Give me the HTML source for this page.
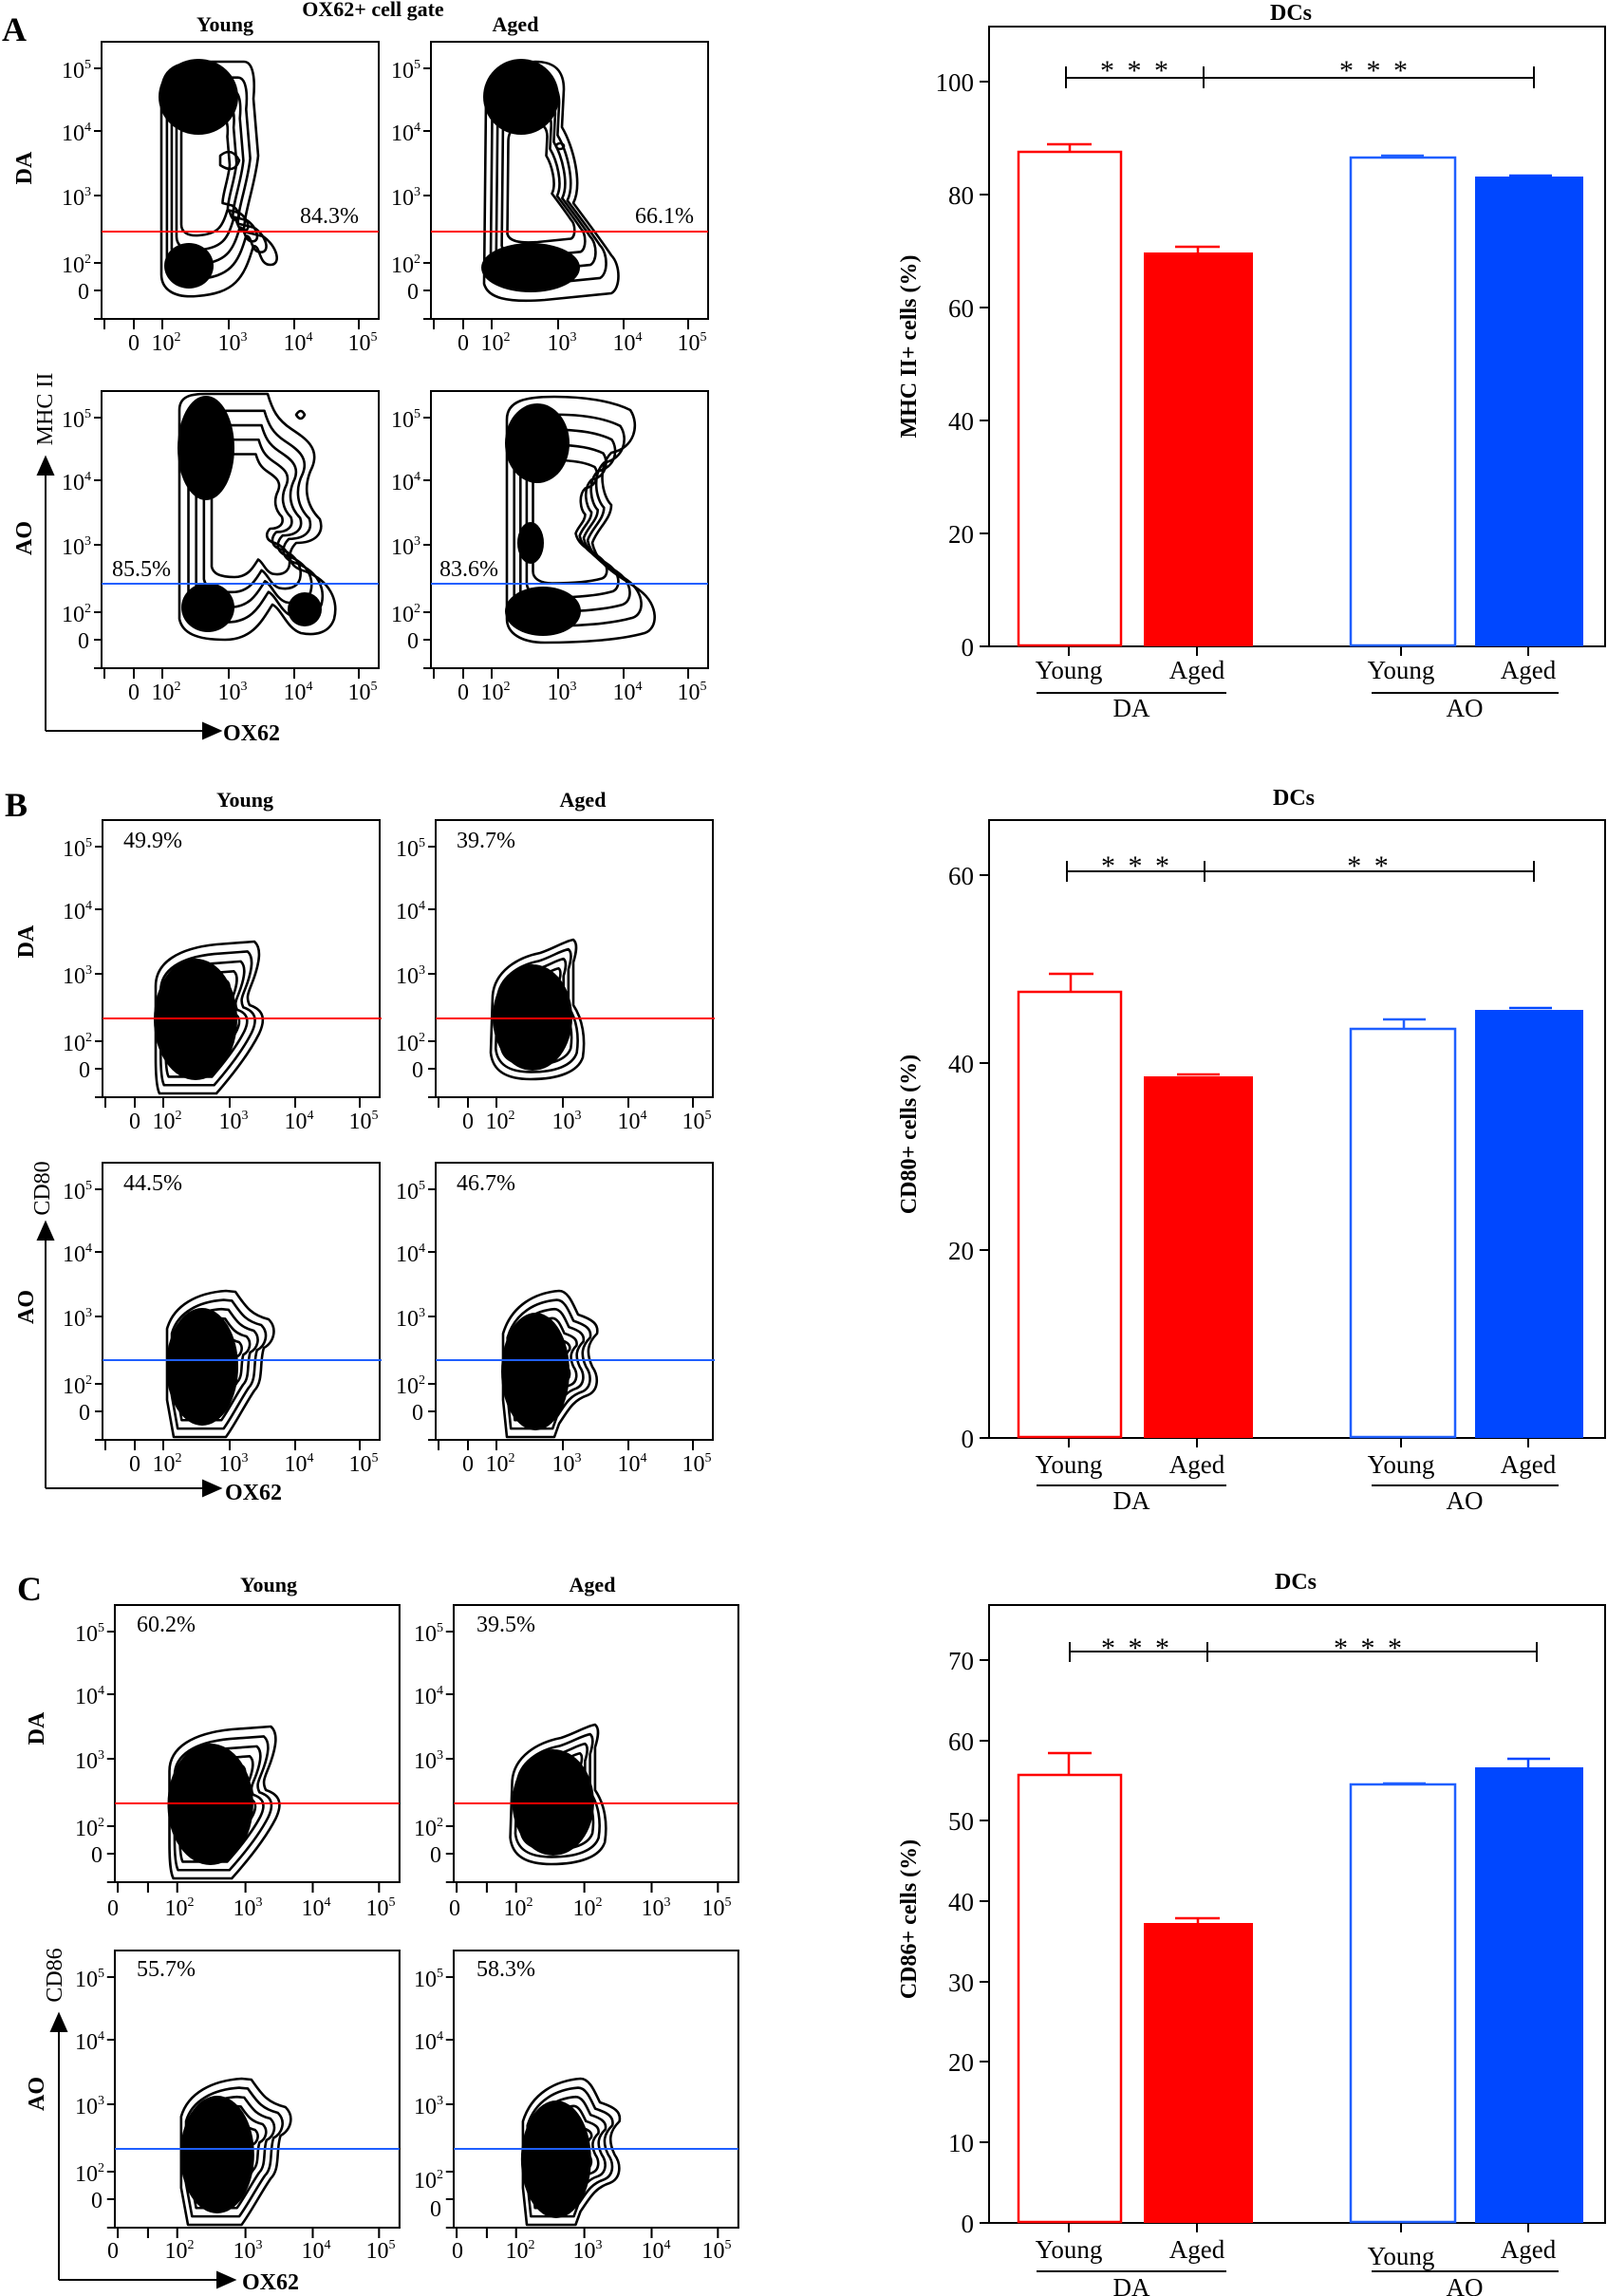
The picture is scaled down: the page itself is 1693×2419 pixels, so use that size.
<!DOCTYPE html>
<html><head><meta charset="utf-8"><style>
html,body{margin:0;padding:0;background:#fff}
svg{display:block}
.t{font-family:"Liberation Serif",serif;font-size:24px;fill:#000}
.b{font-family:"Liberation Serif",serif;font-weight:bold;fill:#000}
.c{fill:none;stroke:#000;stroke-width:2.6;vector-effect:non-scaling-stroke;stroke-linejoin:round}
.bt{font-family:"Liberation Serif",serif;font-size:27px;fill:#000}
</style></head><body>
<svg width="1693" height="2419" viewBox="0 0 1693 2419" xmlns="http://www.w3.org/2000/svg">
<defs>
<g id="ax" fill="none" stroke="#000" stroke-width="2">
<rect x="0" y="0" width="292" height="292"/>
<path d="M-8,28H0M-8,94H0M-8,162H0M-8,233H0M-8,262H0M-8,292H0M3,292V303M34,292V303M64,292V303M134,292V303M203,292V303M271,292V303"/>
</g>
<path id="aYDA" class="c" d="M63,55 C63,20 90,21 120,21 L150,21 C160,21 162,40 160,60 L165,120 C162,150 150,180 150,200 L170,205 C185,215 190,235 178,235 C165,235 168,215 160,215 C150,250 140,265 100,268 C75,270 63,260 63,245 Z"/>
<path id="aADA" class="c" d="M58,60 C58,30 80,22 110,21 C130,21 140,30 140,50 L138,90 C150,110 160,150 150,170 C165,190 180,210 190,225 C200,235 200,260 190,265 L120,272 C80,275 60,270 56,255 Z"/>
<path id="aYAO" class="c" d="M82,20 C82,5 95,3 110,3 L175,3 C180,20 185,30 200,40 C215,50 230,60 222,80 C212,100 215,120 230,135 C235,150 225,160 205,160 C195,170 195,185 215,190 C240,200 250,220 245,240 C240,255 225,258 210,255 C195,250 190,230 180,225 C170,240 160,262 130,262 C100,262 85,255 82,240 Z"/>
<path id="aAAO" class="c" d="M80,30 C80,10 100,6 130,6 C160,6 190,10 210,20 C220,35 215,60 190,65 C175,80 180,110 190,120 C190,135 175,145 170,160 C175,185 200,195 220,210 C240,225 240,250 225,255 C200,262 160,265 120,265 C95,265 80,255 80,240 Z"/>
<path id="bYDA" class="c" d="M56,175 C56,150 80,135 120,131 L160,128 C168,135 165,150 160,165 C155,180 150,185 155,195 C170,200 172,210 165,225 C155,245 140,265 120,288 L60,288 C56,280 56,260 56,250 Z"/>
<path id="bADA" class="c" d="M60,185 C62,160 85,145 110,140 C125,135 135,128 145,126 C150,130 148,140 145,150 L145,195 C155,210 158,230 155,250 C150,265 130,273 100,273 C75,273 60,265 58,245 Z"/>
<path id="bYAO" class="c" d="M68,175 C75,150 100,137 130,135 L140,136 C150,150 155,160 175,165 C185,175 180,190 170,195 C165,210 170,230 160,240 C150,255 140,275 130,289 L75,289 L68,250 Z"/>
<path id="bAAO" class="c" d="M71,180 C80,150 105,137 130,135 C140,135 145,150 150,160 C165,165 172,170 170,180 C160,190 158,200 165,215 C172,225 172,240 160,245 C145,250 140,260 130,275 L125,289 L75,289 L71,250 Z"/>
</defs>

<!-- ===== Panel A flow ===== -->
<text class="b" x="2" y="43" font-size="36">A</text>
<text class="b" x="393" y="17" font-size="22" text-anchor="middle">OX62+ cell gate</text>
<text class="b" x="237" y="33" font-size="22" text-anchor="middle">Young</text>
<text class="b" x="543" y="33" font-size="22" text-anchor="middle">Aged</text>
<text class="b" font-size="24" transform="translate(33,177) rotate(-90)" text-anchor="middle">DA</text>
<text class="b" font-size="24" transform="translate(33,567) rotate(-90)" text-anchor="middle">AO</text>
<text class="t" font-size="24" transform="translate(55,431) rotate(-90)" text-anchor="middle">MHC II</text>
<path d="M48,770V492M40,500L48,482L56,500Z M48,770H222M214,762L232,770L214,778Z" stroke="#000" stroke-width="2" fill="#000"/>
<text class="b" x="235" y="780" font-size="24">OX62</text>

<g transform="translate(107,44)">
<use href="#ax"/>
<ellipse cx="102" cy="58" rx="42" ry="40" fill="#000"/>
<ellipse cx="92" cy="236" rx="26" ry="24" fill="#000"/>
<use href="#aYDA"/><use href="#aYDA" transform="translate(105 140) scale(0.86) translate(-105 -140)"/><use href="#aYDA" transform="translate(105 140) scale(0.74) translate(-105 -140)"/><use href="#aYDA" transform="translate(105 140) scale(0.62) translate(-105 -140)"/><use href="#aYDA" transform="translate(105 140) scale(0.5) translate(-105 -140)"/>
<path d="M125,120 q12,-10 20,5 q-5,15 -20,5z" class="c"/>
<line x1="0" y1="200" x2="292" y2="200" stroke="#ff0000" stroke-width="2"/>
<text class="t" x="209" y="191">84.3%</text>
</g>
<g transform="translate(454,44)">
<use href="#ax"/>
<ellipse cx="95" cy="58" rx="40" ry="40" fill="#000"/>
<ellipse cx="105" cy="238" rx="52" ry="26" fill="#000"/>
<use href="#aADA"/><use href="#aADA" transform="translate(105 150) scale(0.86) translate(-105 -150)"/><use href="#aADA" transform="translate(105 150) scale(0.74) translate(-105 -150)"/><use href="#aADA" transform="translate(105 150) scale(0.62) translate(-105 -150)"/><use href="#aADA" transform="translate(105 150) scale(0.5) translate(-105 -150)"/>
<ellipse cx="136" cy="110" rx="4" ry="3" class="c"/>
<line x1="0" y1="200" x2="292" y2="200" stroke="#ff0000" stroke-width="2"/>
<text class="t" x="215" y="191">66.1%</text>
</g>
<g transform="translate(107,412)">
<use href="#ax"/>
<ellipse cx="110" cy="60" rx="30" ry="55" fill="#000"/>
<ellipse cx="112" cy="228" rx="28" ry="26" fill="#000"/>
<ellipse cx="214" cy="230" rx="18" ry="18" fill="#000"/>
<use href="#aYAO"/><use href="#aYAO" transform="translate(150 130) scale(0.86) translate(-150 -130)"/><use href="#aYAO" transform="translate(150 130) scale(0.74) translate(-150 -130)"/><use href="#aYAO" transform="translate(150 130) scale(0.62) translate(-150 -130)"/><use href="#aYAO" transform="translate(150 130) scale(0.5) translate(-150 -130)"/>
<path d="M205,25 q5,-8 9,0 q-4,8 -9,0z" class="c"/>
<line x1="0" y1="203" x2="292" y2="203" stroke="#1f5fff" stroke-width="2"/>
<text class="t" x="11" y="195">85.5%</text>
</g>
<g transform="translate(454,412)">
<use href="#ax"/>
<ellipse cx="112" cy="55" rx="34" ry="42" fill="#000"/>
<ellipse cx="118" cy="232" rx="40" ry="26" fill="#000"/>
<ellipse cx="105" cy="160" rx="14" ry="22" fill="#000"/>
<use href="#aAAO"/><use href="#aAAO" transform="translate(135 140) scale(0.86) translate(-135 -140)"/><use href="#aAAO" transform="translate(135 140) scale(0.74) translate(-135 -140)"/><use href="#aAAO" transform="translate(135 140) scale(0.62) translate(-135 -140)"/><use href="#aAAO" transform="translate(135 140) scale(0.5) translate(-135 -140)"/>
<line x1="0" y1="203" x2="292" y2="203" stroke="#1f5fff" stroke-width="2"/>
<text class="t" x="9" y="195">83.6%</text>
</g>

<g class="t" text-anchor="end">
<g transform="translate(107,44)"><text x="-11" y="38">10<tspan dy="-10" font-size="14">5</tspan></text><text x="-11" y="104">10<tspan dy="-10" font-size="14">4</tspan></text><text x="-11" y="172">10<tspan dy="-10" font-size="14">3</tspan></text><text x="-11" y="243">10<tspan dy="-10" font-size="14">2</tspan></text><text x="-13" y="271">0</text></g>
<g transform="translate(454,44)"><text x="-11" y="38">10<tspan dy="-10" font-size="14">5</tspan></text><text x="-11" y="104">10<tspan dy="-10" font-size="14">4</tspan></text><text x="-11" y="172">10<tspan dy="-10" font-size="14">3</tspan></text><text x="-11" y="243">10<tspan dy="-10" font-size="14">2</tspan></text><text x="-13" y="271">0</text></g>
<g transform="translate(107,412)"><text x="-11" y="38">10<tspan dy="-10" font-size="14">5</tspan></text><text x="-11" y="104">10<tspan dy="-10" font-size="14">4</tspan></text><text x="-11" y="172">10<tspan dy="-10" font-size="14">3</tspan></text><text x="-11" y="243">10<tspan dy="-10" font-size="14">2</tspan></text><text x="-13" y="271">0</text></g>
<g transform="translate(454,412)"><text x="-11" y="38">10<tspan dy="-10" font-size="14">5</tspan></text><text x="-11" y="104">10<tspan dy="-10" font-size="14">4</tspan></text><text x="-11" y="172">10<tspan dy="-10" font-size="14">3</tspan></text><text x="-11" y="243">10<tspan dy="-10" font-size="14">2</tspan></text><text x="-13" y="271">0</text></g>
</g>
<g class="t" text-anchor="middle">
<g transform="translate(107,44)"><text x="34" y="325">0</text><text x="68" y="325">10<tspan dy="-10" font-size="14">2</tspan></text><text x="138" y="325">10<tspan dy="-10" font-size="14">3</tspan></text><text x="207" y="325">10<tspan dy="-10" font-size="14">4</tspan></text><text x="275" y="325">10<tspan dy="-10" font-size="14">5</tspan></text></g>
<g transform="translate(454,44)"><text x="34" y="325">0</text><text x="68" y="325">10<tspan dy="-10" font-size="14">2</tspan></text><text x="138" y="325">10<tspan dy="-10" font-size="14">3</tspan></text><text x="207" y="325">10<tspan dy="-10" font-size="14">4</tspan></text><text x="275" y="325">10<tspan dy="-10" font-size="14">5</tspan></text></g>
<g transform="translate(107,412)"><text x="34" y="325">0</text><text x="68" y="325">10<tspan dy="-10" font-size="14">2</tspan></text><text x="138" y="325">10<tspan dy="-10" font-size="14">3</tspan></text><text x="207" y="325">10<tspan dy="-10" font-size="14">4</tspan></text><text x="275" y="325">10<tspan dy="-10" font-size="14">5</tspan></text></g>
<g transform="translate(454,412)"><text x="34" y="325">0</text><text x="68" y="325">10<tspan dy="-10" font-size="14">2</tspan></text><text x="138" y="325">10<tspan dy="-10" font-size="14">3</tspan></text><text x="207" y="325">10<tspan dy="-10" font-size="14">4</tspan></text><text x="275" y="325">10<tspan dy="-10" font-size="14">5</tspan></text></g>
</g>

<!-- ===== Panel B flow ===== -->
<text class="b" x="5" y="860" font-size="36">B</text>
<text class="b" x="258" y="850" font-size="22" text-anchor="middle">Young</text>
<text class="b" x="614" y="850" font-size="22" text-anchor="middle">Aged</text>
<text class="b" font-size="24" transform="translate(35,992) rotate(-90)" text-anchor="middle">DA</text>
<text class="b" font-size="24" transform="translate(35,1377) rotate(-90)" text-anchor="middle">AO</text>
<text class="t" font-size="24" transform="translate(52,1252) rotate(-90)" text-anchor="middle">CD80</text>
<path d="M48,1568V1298M40,1306L48,1288L56,1306Z M48,1568H222M214,1560L232,1568L214,1576Z" stroke="#000" stroke-width="2" fill="#000"/>
<text class="b" x="237" y="1580" font-size="24">OX62</text>

<g transform="translate(108,864)">
<use href="#ax"/>
<ellipse cx="98" cy="210" rx="44" ry="64" fill="#000"/>
<use href="#bYDA"/><use href="#bYDA" transform="translate(100 215) scale(0.88) translate(-100 -215)"/><use href="#bYDA" transform="translate(100 215) scale(0.76) translate(-100 -215)"/><use href="#bYDA" transform="translate(100 215) scale(0.64) translate(-100 -215)"/><use href="#bYDA" transform="translate(100 215) scale(0.52) translate(-100 -215)"/>
<line x1="0" y1="209" x2="294" y2="209" stroke="#ff0000" stroke-width="2"/>
<text class="t" x="22" y="29">49.9%</text>
</g>
<g transform="translate(459,864)">
<use href="#ax"/>
<ellipse cx="102" cy="208" rx="42" ry="56" fill="#000"/>
<use href="#bADA"/><use href="#bADA" transform="translate(102 210) scale(0.88) translate(-102 -210)"/><use href="#bADA" transform="translate(102 210) scale(0.76) translate(-102 -210)"/><use href="#bADA" transform="translate(102 210) scale(0.64) translate(-102 -210)"/><use href="#bADA" transform="translate(102 210) scale(0.52) translate(-102 -210)"/>
<line x1="0" y1="209" x2="294" y2="209" stroke="#ff0000" stroke-width="2"/>
<text class="t" x="22" y="29">39.7%</text>
</g>
<g transform="translate(108,1225)">
<use href="#ax"/>
<ellipse cx="105" cy="215" rx="38" ry="62" fill="#000"/>
<use href="#bYAO"/><use href="#bYAO" transform="translate(110 215) scale(0.88) translate(-110 -215)"/><use href="#bYAO" transform="translate(110 215) scale(0.76) translate(-110 -215)"/><use href="#bYAO" transform="translate(110 215) scale(0.64) translate(-110 -215)"/><use href="#bYAO" transform="translate(110 215) scale(0.52) translate(-110 -215)"/>
<line x1="0" y1="208" x2="294" y2="208" stroke="#1f5fff" stroke-width="2"/>
<text class="t" x="22" y="29">44.5%</text>
</g>
<g transform="translate(459,1225)">
<use href="#ax"/>
<ellipse cx="105" cy="220" rx="36" ry="62" fill="#000"/>
<use href="#bAAO"/><use href="#bAAO" transform="translate(110 215) scale(0.88) translate(-110 -215)"/><use href="#bAAO" transform="translate(110 215) scale(0.76) translate(-110 -215)"/><use href="#bAAO" transform="translate(110 215) scale(0.64) translate(-110 -215)"/><use href="#bAAO" transform="translate(110 215) scale(0.52) translate(-110 -215)"/>
<line x1="0" y1="208" x2="294" y2="208" stroke="#1f5fff" stroke-width="2"/>
<text class="t" x="22" y="29">46.7%</text>
</g>
<g class="t" text-anchor="end">
<g transform="translate(108,864)"><text x="-11" y="38">10<tspan dy="-10" font-size="14">5</tspan></text><text x="-11" y="104">10<tspan dy="-10" font-size="14">4</tspan></text><text x="-11" y="172">10<tspan dy="-10" font-size="14">3</tspan></text><text x="-11" y="243">10<tspan dy="-10" font-size="14">2</tspan></text><text x="-13" y="271">0</text></g>
<g transform="translate(459,864)"><text x="-11" y="38">10<tspan dy="-10" font-size="14">5</tspan></text><text x="-11" y="104">10<tspan dy="-10" font-size="14">4</tspan></text><text x="-11" y="172">10<tspan dy="-10" font-size="14">3</tspan></text><text x="-11" y="243">10<tspan dy="-10" font-size="14">2</tspan></text><text x="-13" y="271">0</text></g>
<g transform="translate(108,1225)"><text x="-11" y="38">10<tspan dy="-10" font-size="14">5</tspan></text><text x="-11" y="104">10<tspan dy="-10" font-size="14">4</tspan></text><text x="-11" y="172">10<tspan dy="-10" font-size="14">3</tspan></text><text x="-11" y="243">10<tspan dy="-10" font-size="14">2</tspan></text><text x="-13" y="271">0</text></g>
<g transform="translate(459,1225)"><text x="-11" y="38">10<tspan dy="-10" font-size="14">5</tspan></text><text x="-11" y="104">10<tspan dy="-10" font-size="14">4</tspan></text><text x="-11" y="172">10<tspan dy="-10" font-size="14">3</tspan></text><text x="-11" y="243">10<tspan dy="-10" font-size="14">2</tspan></text><text x="-13" y="271">0</text></g>
</g>
<g class="t" text-anchor="middle">
<g transform="translate(108,864)"><text x="34" y="325">0</text><text x="68" y="325">10<tspan dy="-10" font-size="14">2</tspan></text><text x="138" y="325">10<tspan dy="-10" font-size="14">3</tspan></text><text x="207" y="325">10<tspan dy="-10" font-size="14">4</tspan></text><text x="275" y="325">10<tspan dy="-10" font-size="14">5</tspan></text></g>
<g transform="translate(459,864)"><text x="34" y="325">0</text><text x="68" y="325">10<tspan dy="-10" font-size="14">2</tspan></text><text x="138" y="325">10<tspan dy="-10" font-size="14">3</tspan></text><text x="207" y="325">10<tspan dy="-10" font-size="14">4</tspan></text><text x="275" y="325">10<tspan dy="-10" font-size="14">5</tspan></text></g>
<g transform="translate(108,1225)"><text x="34" y="325">0</text><text x="68" y="325">10<tspan dy="-10" font-size="14">2</tspan></text><text x="138" y="325">10<tspan dy="-10" font-size="14">3</tspan></text><text x="207" y="325">10<tspan dy="-10" font-size="14">4</tspan></text><text x="275" y="325">10<tspan dy="-10" font-size="14">5</tspan></text></g>
<g transform="translate(459,1225)"><text x="34" y="325">0</text><text x="68" y="325">10<tspan dy="-10" font-size="14">2</tspan></text><text x="138" y="325">10<tspan dy="-10" font-size="14">3</tspan></text><text x="207" y="325">10<tspan dy="-10" font-size="14">4</tspan></text><text x="275" y="325">10<tspan dy="-10" font-size="14">5</tspan></text></g>
</g>

<!-- ===== Panel C flow ===== -->
<text class="b" x="18" y="1686" font-size="36">C</text>
<text class="b" x="283" y="1677" font-size="22" text-anchor="middle">Young</text>
<text class="b" x="624" y="1677" font-size="22" text-anchor="middle">Aged</text>
<text class="b" font-size="24" transform="translate(46,1821) rotate(-90)" text-anchor="middle">DA</text>
<text class="b" font-size="24" transform="translate(46,2206) rotate(-90)" text-anchor="middle">AO</text>
<text class="t" font-size="24" transform="translate(65,2081) rotate(-90)" text-anchor="middle">CD86</text>
<path d="M62,2402V2132M54,2140L62,2122L70,2140Z M62,2402H237M229,2394L247,2402L229,2410Z" stroke="#000" stroke-width="2" fill="#000"/>
<text class="b" x="255" y="2412" font-size="24">OX62</text>

<g transform="translate(121,1691) scale(1.027,1)">
<use href="#ax"/>
<ellipse cx="98" cy="210" rx="44" ry="64" fill="#000"/>
<use href="#bYDA"/><use href="#bYDA" transform="translate(100 215) scale(0.88) translate(-100 -215)"/><use href="#bYDA" transform="translate(100 215) scale(0.76) translate(-100 -215)"/><use href="#bYDA" transform="translate(100 215) scale(0.64) translate(-100 -215)"/><use href="#bYDA" transform="translate(100 215) scale(0.52) translate(-100 -215)"/>
<line x1="0" y1="209" x2="292" y2="209" stroke="#ff0000" stroke-width="2"/>
</g>
<g transform="translate(478,1691) scale(1.027,1)">
<use href="#ax"/>
<ellipse cx="102" cy="208" rx="42" ry="56" fill="#000"/>
<use href="#bADA"/><use href="#bADA" transform="translate(102 210) scale(0.88) translate(-102 -210)"/><use href="#bADA" transform="translate(102 210) scale(0.76) translate(-102 -210)"/><use href="#bADA" transform="translate(102 210) scale(0.64) translate(-102 -210)"/><use href="#bADA" transform="translate(102 210) scale(0.52) translate(-102 -210)"/>
<line x1="0" y1="209" x2="292" y2="209" stroke="#ff0000" stroke-width="2"/>
</g>
<g transform="translate(121,2055) scale(1.027,1)">
<use href="#ax"/>
<ellipse cx="105" cy="215" rx="38" ry="62" fill="#000"/>
<use href="#bYAO"/><use href="#bYAO" transform="translate(110 215) scale(0.88) translate(-110 -215)"/><use href="#bYAO" transform="translate(110 215) scale(0.76) translate(-110 -215)"/><use href="#bYAO" transform="translate(110 215) scale(0.64) translate(-110 -215)"/><use href="#bYAO" transform="translate(110 215) scale(0.52) translate(-110 -215)"/>
<line x1="0" y1="209" x2="292" y2="209" stroke="#1f5fff" stroke-width="2"/>
</g>
<g transform="translate(478,2055) scale(1.027,1)">
<use href="#ax"/>
<ellipse cx="105" cy="220" rx="36" ry="62" fill="#000"/>
<use href="#bAAO"/><use href="#bAAO" transform="translate(110 215) scale(0.88) translate(-110 -215)"/><use href="#bAAO" transform="translate(110 215) scale(0.76) translate(-110 -215)"/><use href="#bAAO" transform="translate(110 215) scale(0.64) translate(-110 -215)"/><use href="#bAAO" transform="translate(110 215) scale(0.52) translate(-110 -215)"/>
<line x1="0" y1="209" x2="292" y2="209" stroke="#1f5fff" stroke-width="2"/>
</g>
<text class="t" x="144" y="1719">60.2%</text>
<text class="t" x="502" y="1719">39.5%</text>
<text class="t" x="144" y="2082">55.7%</text>
<text class="t" x="502" y="2082">58.3%</text>
<g class="t" text-anchor="end">
<g transform="translate(121,1691)"><text x="-11" y="38">10<tspan dy="-10" font-size="14">5</tspan></text><text x="-11" y="104">10<tspan dy="-10" font-size="14">4</tspan></text><text x="-11" y="172">10<tspan dy="-10" font-size="14">3</tspan></text><text x="-11" y="243">10<tspan dy="-10" font-size="14">2</tspan></text><text x="-13" y="271">0</text></g>
<g transform="translate(478,1691)"><text x="-11" y="38">10<tspan dy="-10" font-size="14">5</tspan></text><text x="-11" y="104">10<tspan dy="-10" font-size="14">4</tspan></text><text x="-11" y="172">10<tspan dy="-10" font-size="14">3</tspan></text><text x="-11" y="243">10<tspan dy="-10" font-size="14">2</tspan></text><text x="-13" y="271">0</text></g>
<g transform="translate(121,2055)"><text x="-11" y="38">10<tspan dy="-10" font-size="14">5</tspan></text><text x="-11" y="104">10<tspan dy="-10" font-size="14">4</tspan></text><text x="-11" y="172">10<tspan dy="-10" font-size="14">3</tspan></text><text x="-11" y="243">10<tspan dy="-10" font-size="14">2</tspan></text><text x="-13" y="271">0</text></g>
<g transform="translate(478,2055)"><text x="-11" y="38">10<tspan dy="-10" font-size="14">5</tspan></text><text x="-11" y="104">10<tspan dy="-10" font-size="14">4</tspan></text><text x="-11" y="172">10<tspan dy="-10" font-size="14">3</tspan></text><text x="-11" y="250">10<tspan dy="-10" font-size="14">2</tspan></text><text x="-13" y="280">0</text></g>
</g>
<g class="t" text-anchor="middle">
<g transform="translate(121,1691)"><text x="-2" y="327">0</text><text x="68" y="327">10<tspan dy="-10" font-size="14">2</tspan></text><text x="140" y="327">10<tspan dy="-10" font-size="14">3</tspan></text><text x="212" y="327">10<tspan dy="-10" font-size="14">4</tspan></text><text x="280" y="327">10<tspan dy="-10" font-size="14">5</tspan></text></g>
<g transform="translate(478,1691)"><text x="1" y="327">0</text><text x="68" y="327">10<tspan dy="-10" font-size="14">2</tspan></text><text x="141" y="327">10<tspan dy="-10" font-size="14">2</tspan></text><text x="213" y="327">10<tspan dy="-10" font-size="14">3</tspan></text><text x="277" y="327">10<tspan dy="-10" font-size="14">5</tspan></text></g>
<g transform="translate(121,2055)"><text x="-2" y="324">0</text><text x="68" y="324">10<tspan dy="-10" font-size="14">2</tspan></text><text x="140" y="324">10<tspan dy="-10" font-size="14">3</tspan></text><text x="212" y="324">10<tspan dy="-10" font-size="14">4</tspan></text><text x="280" y="324">10<tspan dy="-10" font-size="14">5</tspan></text></g>
<g transform="translate(478,2055)"><text x="4" y="324">0</text><text x="70" y="324">10<tspan dy="-10" font-size="14">2</tspan></text><text x="141" y="324">10<tspan dy="-10" font-size="14">3</tspan></text><text x="213" y="324">10<tspan dy="-10" font-size="14">4</tspan></text><text x="277" y="324">10<tspan dy="-10" font-size="14">5</tspan></text></g>
</g>

<!-- ===== Bar chart A ===== -->
<g>
<text class="b" x="1360" y="21" font-size="24" text-anchor="middle">DCs</text>
<rect x="1042" y="28" width="649" height="653" fill="none" stroke="#000" stroke-width="2"/>
<rect x="1073" y="160" width="108" height="520" fill="#fff" stroke="#ff0000" stroke-width="2.5"/>
<path d="M1127,160V152M1103,152H1150" stroke="#ff0000" stroke-width="2.5"/>
<rect x="1205" y="266" width="115" height="415" fill="#ff0000"/>
<path d="M1262,266V260M1238,260H1285" stroke="#ff0000" stroke-width="2.5"/>
<rect x="1423" y="166" width="110" height="514" fill="#fff" stroke="#1f5fff" stroke-width="2.5"/>
<path d="M1455,164H1500" stroke="#1f5fff" stroke-width="2.5"/>
<rect x="1554" y="186" width="114" height="495" fill="#0047ff"/>
<path d="M1590,185H1635" stroke="#0047ff" stroke-width="2.5"/>
<path d="M1032,86H1042M1032,205H1042M1032,324H1042M1032,443H1042M1032,562H1042M1032,681H1042" stroke="#000" stroke-width="2"/>
<g class="bt" text-anchor="end"><text x="1026" y="96">100</text><text x="1026" y="215">80</text><text x="1026" y="334">60</text><text x="1026" y="453">40</text><text x="1026" y="572">20</text><text x="1026" y="691">0</text></g>
<path d="M1123,82H1616M1123,70V93M1268,70V93M1616,70V93" stroke="#000" stroke-width="2"/>
<text x="1195" y="84" font-family="Liberation Serif" font-size="30" text-anchor="middle" word-spacing="6">* * *</text>
<text x="1447" y="84" font-family="Liberation Serif" font-size="30" text-anchor="middle" word-spacing="6">* * *</text>
<path d="M1126,681V691M1261,681V691M1476,681V691M1610,681V691M1092,730H1292M1445,730H1642" stroke="#000" stroke-width="2"/>
<g class="bt" text-anchor="middle"><text x="1126" y="715">Young</text><text x="1261" y="715">Aged</text><text x="1476" y="715">Young</text><text x="1610" y="715">Aged</text><text x="1192" y="755">DA</text><text x="1543" y="755">AO</text></g>
<text class="b" font-size="24" transform="translate(965,365) rotate(-90)" text-anchor="middle">MHC II+ cells (%)</text>
</g>

<!-- ===== Bar chart B ===== -->
<g>
<text class="b" x="1363" y="848" font-size="24" text-anchor="middle">DCs</text>
<rect x="1042" y="864" width="649" height="651" fill="none" stroke="#000" stroke-width="2"/>
<rect x="1073" y="1045" width="108" height="469" fill="#fff" stroke="#ff0000" stroke-width="2.5"/>
<path d="M1128,1045V1026M1105,1026H1152" stroke="#ff0000" stroke-width="2.5"/>
<rect x="1205" y="1134" width="115" height="381" fill="#ff0000"/>
<path d="M1240,1132H1285" stroke="#ff0000" stroke-width="2.5"/>
<rect x="1423" y="1084" width="110" height="430" fill="#fff" stroke="#1f5fff" stroke-width="2.5"/>
<path d="M1479,1084V1074M1457,1074H1502" stroke="#1f5fff" stroke-width="2.5"/>
<rect x="1554" y="1064" width="114" height="451" fill="#0047ff"/>
<path d="M1590,1062H1635" stroke="#0047ff" stroke-width="2.5"/>
<path d="M1032,922H1042M1032,1120H1042M1032,1317H1042M1032,1515H1042" stroke="#000" stroke-width="2"/>
<g class="bt" text-anchor="end"><text x="1026" y="932">60</text><text x="1026" y="1130">40</text><text x="1026" y="1327">20</text><text x="1026" y="1525">0</text></g>
<path d="M1124,918H1616M1124,907V929M1269,907V929M1616,907V929" stroke="#000" stroke-width="2"/>
<text x="1196" y="922" font-family="Liberation Serif" font-size="30" text-anchor="middle" word-spacing="6">* * *</text>
<text x="1441" y="922" font-family="Liberation Serif" font-size="30" text-anchor="middle" word-spacing="6">* *</text>
<path d="M1126,1515V1525M1261,1515V1525M1476,1515V1525M1610,1515V1525M1092,1565H1292M1445,1565H1642" stroke="#000" stroke-width="2"/>
<g class="bt" text-anchor="middle"><text x="1126" y="1552">Young</text><text x="1261" y="1552">Aged</text><text x="1476" y="1552">Young</text><text x="1610" y="1552">Aged</text><text x="1192" y="1590">DA</text><text x="1543" y="1590">AO</text></g>
<text class="b" font-size="24" transform="translate(965,1195) rotate(-90)" text-anchor="middle">CD80+ cells (%)</text>
</g>

<!-- ===== Bar chart C ===== -->
<g>
<text class="b" x="1365" y="1674" font-size="24" text-anchor="middle">DCs</text>
<rect x="1042" y="1691" width="649" height="651" fill="none" stroke="#000" stroke-width="2"/>
<rect x="1073" y="1870" width="108" height="471" fill="#fff" stroke="#ff0000" stroke-width="2.5"/>
<path d="M1126,1870V1847M1104,1847H1150" stroke="#ff0000" stroke-width="2.5"/>
<rect x="1205" y="2026" width="115" height="316" fill="#ff0000"/>
<path d="M1262,2026V2021M1238,2021H1285" stroke="#ff0000" stroke-width="2.5"/>
<rect x="1423" y="1880" width="110" height="461" fill="#fff" stroke="#1f5fff" stroke-width="2.5"/>
<path d="M1457,1879H1502" stroke="#1f5fff" stroke-width="2.5"/>
<rect x="1554" y="1862" width="114" height="480" fill="#0047ff"/>
<path d="M1610,1862V1853M1588,1853H1633" stroke="#0047ff" stroke-width="2.5"/>
<path d="M1032,1749H1042M1032,1834H1042M1032,1918H1042M1032,2003H1042M1032,2088H1042M1032,2172H1042M1032,2257H1042M1032,2342H1042" stroke="#000" stroke-width="2"/>
<g class="bt" text-anchor="end"><text x="1026" y="1759">70</text><text x="1026" y="1844">60</text><text x="1026" y="1928">50</text><text x="1026" y="2013">40</text><text x="1026" y="2098">30</text><text x="1026" y="2182">20</text><text x="1026" y="2267">10</text><text x="1026" y="2352">0</text></g>
<path d="M1127,1740H1619M1127,1730V1751M1272,1730V1751M1619,1730V1751" stroke="#000" stroke-width="2"/>
<text x="1196" y="1746" font-family="Liberation Serif" font-size="30" text-anchor="middle" word-spacing="6">* * *</text>
<text x="1441" y="1746" font-family="Liberation Serif" font-size="30" text-anchor="middle" word-spacing="6">* * *</text>
<path d="M1126,2342V2352M1261,2342V2352M1476,2342V2352M1610,2342V2352M1092,2393H1292M1445,2393H1642" stroke="#000" stroke-width="2"/>
<g class="bt" text-anchor="middle"><text x="1126" y="2379">Young</text><text x="1261" y="2379">Aged</text><text x="1476" y="2386">Young</text><text x="1610" y="2379">Aged</text><text x="1192" y="2419">DA</text><text x="1543" y="2419">AO</text></g>
<text class="b" font-size="24" transform="translate(965,2022) rotate(-90)" text-anchor="middle">CD86+ cells (%)</text>
</g>
</svg>
</body></html>
